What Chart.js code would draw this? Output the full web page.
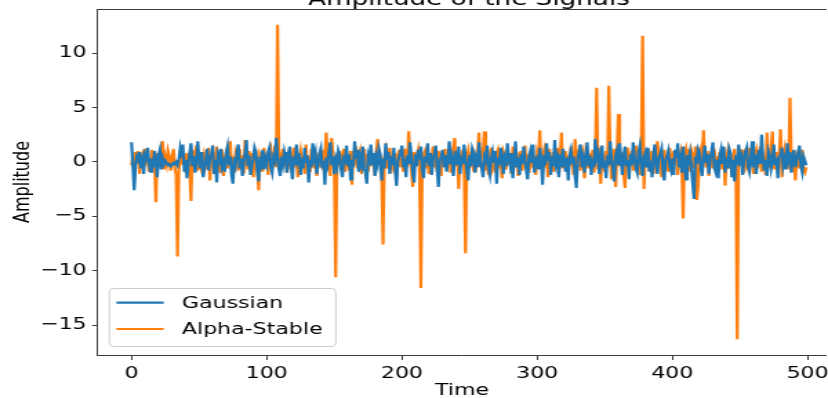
<!DOCTYPE html>
<html>
<head>
<meta charset="utf-8">
<script src="https://cdn.jsdelivr.net/npm/chart.js@4"></script>
<style>
  html, body { margin: 0; padding: 0; background: #fff; overflow: hidden; }
  /* the reference is a crop of a wider figure that was stretched sideways */
  #marco { position: relative; width: 828px; height: 398px; overflow: hidden; }
  #lienzo { position: absolute; left: 0; top: -14px; width: 600px; height: 412px;
            transform: scaleX(1.38); transform-origin: 0 0; }
</style>
</head>
<body>
<div id="marco"><div id="lienzo"><canvas id="grafica"></canvas></div></div>
<script>
const titulo = 'Amplitude of the Signals';
const nombresSeries = ['Gaussian', 'Alpha-Stable'];
const coloresSeries = ['#1f77b4', '#ff7f0e'];
const ticksX = [0, 100, 200, 300, 400, 500];
const ticksY = [10, 5, 0, -5, -10, -15];

// one value per time step (0..499)
const gaussiana = [
  1.8, -0.4, -2.6, -0.3, 0.5, 0.2, 0.9, -0.6, 0.1, -1.1, 0.7, 0.4, 1.3, -0.2, -0.9, 0.3, -0.5, 1.0, 0.2, -1.4,
  0.6, 1.1, -0.7, 0.3, -0.2, 0.1, -0.1, -0.3, -0.2, -0.4, -0.3, -0.1, -0.2, 0.0, -0.3, 0.2, 1.2, 0.4, 1.6, -0.9,
  0.2, -1.5, -0.3, 0.8, 1.7, -0.4, 0.5, -1.0, -0.2, 1.9, 0.3, -0.6, 0.9, -1.4, -0.5, 0.1, 1.2, -0.8, 0.4, 0.6,
  1.5, -1.1, 0.2, -1.9, 0.7, 0.3, 1.2, -0.5, -0.1, -0.9, 0.8, 1.4, -0.3, 0.5, -1.2, -2.0, 0.4, -0.2, 0.9, 1.6,
  -0.6, 0.3, -1.3, 0.1, 0.8, 2.0, -0.4, 0.6, -1.2, -0.3, 0.2, 1.3, 0.9, -0.8, -1.8, 0.5, -0.1, 1.1, -0.7, 0.3,
  -0.2, 0.9, 1.3, -0.5, -1.0, 0.4, 0.1, 2.2, 0.6, -0.7, -1.3, 0.5, -0.2, 0.9, 0.3, -1.0, 0.7, 1.4, -0.4, -1.6,
  0.5, -0.3, 1.6, 0.2, 0.8, -1.2, 0.4, -0.6, 1.3, -0.1, 0.6, -1.9, 0.2, -0.5, 1.7, 0.4, 0.9, -1.1, -0.3, 0.7,
  1.2, -0.6, 0.1, -2.1, 0.4, -0.2, 0.9, 1.8, -0.3, 0.5, -1.1, 0.2, -0.4, 1.0, 0.6, -0.7, -1.4, 0.3, 0.1, 1.5,
  -0.4, 0.7, -1.6, 0.2, -0.5, 1.9, 0.3, 1.1, -0.9, 0.4, -0.2, 1.4, -0.6, -1.0, -2.0, 0.6, 0.2, 1.6, -0.3, 0.8,
  -1.3, 0.4, -0.2, 1.2, 0.7, -1.7, 0.3, -0.6, 1.7, 0.2, 0.9, -1.1, 0.5, -0.3, 1.3, -0.8, -2.2, 0.1, 0.5, 0.9,
  1.5, -0.5, 0.3, -1.4, 0.6, -0.2, 1.8, 0.4, -1.0, -1.9, 0.7, -0.4, 1.1, 0.2, 1.4, -0.7, -1.5, 0.5, -0.1, 1.7,
  -0.4, 0.8, -1.2, 0.3, 0.7, 1.5, -0.6, -2.3, 0.2, 0.4, 1.1, -0.5, 0.6, -0.9, 0.1, 1.9, -0.2, 0.4, -1.3, 0.3,
  1.0, -0.3, 1.4, -1.1, 0.5, -0.2, 1.6, 0.3, -0.8, -1.7, 0.6, -0.4, 1.2, 0.8, -1.0, 0.2, -0.5, 1.8, 0.1, -0.6,
  -1.4, 0.5, 0.2, 1.5, -0.6, -1.2, 0.3, 0.9, -0.1, 1.0, -2.0, 0.4, -0.3, 1.3, 0.6, -1.1, 0.2, -0.4, 1.7, 0.3,
  -0.3, 0.8, -1.5, 0.1, 1.9, -0.5, 0.4, -1.2, 0.7, -0.2, 1.4, 0.3, -0.8, -1.6, 0.5, 1.0, -0.1, 1.6, -1.0, 0.2,
  0.4, -0.7, 1.3, 0.2, -2.1, 0.6, -0.3, 1.7, 0.1, 0.9, -1.2, 0.5, -0.4, 2.0, -0.2, 0.3, -1.4, 0.7, -0.5, 1.2,
  0.1, -0.9, 0.4, -1.7, 0.6, 1.1, -0.2, 0.5, -1.3, -2.4, 0.3, 0.9, 1.6, -0.5, 0.2, -1.0, 0.7, 1.8, -0.4, 0.6,
  -1.2, 0.3, -0.5, 2.1, 0.4, 0.8, -1.1, 0.2, 1.5, -0.6, 0.1, -1.5, 0.6, -0.3, 1.9, 0.2, -0.7, -1.8, 0.5, 1.0,
  -0.2, 1.7, 0.3, -1.2, 0.6, 1.4, -0.4, 0.2, -1.6, 0.7, -0.3, 1.8, 0.5, -0.6, -1.0, 0.9, 1.5, -0.2, -1.3, 0.4,
  0.8, -0.5, 1.3, -0.9, 0.1, -1.4, 0.6, 1.6, -0.3, -1.1, 0.4, 0.7, 1.2, -0.6, -1.7, 0.2, 0.5, 1.0, -0.4, -0.8,
  0.3, -1.2, 1.1, 0.4, 1.7, -0.5, 0.2, -1.0, 1.4, -0.3, -1.6, 0.6, 0.1, 0.8, -0.4, -1.9, -3.4, 0.5, -0.2, 1.2,
  0.9, -0.6, -1.3, 0.4, 1.5, -0.1, 0.7, -1.1, 0.3, 1.0, 1.8, -0.5, -0.9, 0.2, -1.5, 0.5, 1.1, -0.2, 1.4, -1.0,
  0.4, -0.6, 1.2, 0.8, -1.4, 0.2, -1.8, 0.6, -0.3, 1.6, 0.1, 0.5, -1.2, 0.3, 0.9, 1.3, -0.4, -0.9, 0.2, 1.9,
  -0.5, 0.7, -1.1, 0.3, 1.1, -0.2, 2.5, 0.4, -0.8, 0.2, -1.3, 1.0, 0.6, -0.6, 0.1, 1.6, -0.3, 0.4, -1.5, 0.5,
  0.6, 1.3, -0.4, 0.2, -0.7, 1.7, 0.3, 0.9, -1.0, 0.4, 1.1, -0.5, 0.2, 0.7, 1.5, -0.3, -0.9, 0.5, 0.1, -0.3
];
const alfaEstable = [
  -0.3, 0.5, -0.8, 0.9, -0.2, 1.0, -1.1, 0.4, 0.7, -0.5, 1.2, -0.3, 0.6, -0.9, 0.3, 1.1, -0.6, 0.2, -3.7, 0.8,
  -0.4, 0.6, 1.3, 1.9, -0.7, 0.4, -0.2, 1.0, 0.5, -0.8, 0.3, 1.2, -0.5, -1.2, -8.7, -0.9, 0.6, 1.4, -0.3, 0.7,
  -1.0, 0.8, 0.2, -0.6, -3.6, 1.1, -0.4, 0.5, 1.5, -0.8, 0.3, -0.3, 0.9, -1.1, 0.6, 0.1, -0.7, 1.3, -1.7, 0.4,
  0.9, -0.5, 0.2, 1.4, -0.9, 0.6, -0.2, 1.1, -1.3, 0.3, 0.8, -0.6, 1.0, 1.9, -0.4, 0.5, -1.0, 0.7, 0.2, -0.8,
  1.2, -0.3, 0.6, -1.1, 2.0, 0.4, -0.7, 1.0, -0.2, 0.8, -1.4, 0.3, 1.1, -0.5, -2.6, 0.6, 0.2, -0.9, 1.3, -0.4,
  0.7, -1.2, 0.4, 1.0, -0.6, 0.3, 1.5, -0.5, 12.6, 0.9, -0.8, 0.5, 1.2, -0.3, 0.6, -1.0, 0.2, 1.1, -0.7, 0.4,
  1.3, -0.5, 0.8, -1.4, 0.3, 1.0, -0.2, 0.6, -1.1, 1.6, -0.4, 0.5, -0.9, 1.2, 0.1, -0.6, 0.9, -1.3, 0.4, 0.7,
  -0.5, 1.1, -0.8, 0.3, 2.7, 0.6, -0.3, -1.3, 2.2, 0.5, -1.0, -10.6, 0.8, -0.4, 1.0, -0.7, 0.3, 1.2, -0.9, 0.5,
  0.2, -0.8, 1.0, -2.1, 0.6, -0.3, 1.4, -0.6, 0.4, 0.9, -1.1, 0.3, 1.2, -0.5, 0.7, -0.9, 0.2, 1.1, -0.4, 0.6,
  -1.2, 0.9, 2.1, -0.3, 0.5, -0.8, -7.6, 0.4, 1.0, -0.6, 0.3, 1.3, -1.0, 0.6, -0.2, 0.8, -1.4, 0.4, 1.1, -0.5,
  0.3, -0.9, 1.2, 0.5, -0.4, 2.8, 0.2, -0.7, -2.3, 0.9, -0.3, 0.6, 1.1, -0.8, -11.6, -0.5, 0.7, 1.0, -0.6, 0.3,
  -1.1, 0.8, 0.2, 1.4, -0.5, 0.6, -0.9, 1.0, 0.3, -1.3, 0.7, -0.2, 1.2, -0.6, 0.4, 0.9, -1.0, 0.5, 1.3, 2.2,
  -0.4, 0.6, -2.5, 0.8, -0.3, 1.1, -0.7, -8.4, 0.5, 1.0, -0.6, 0.3, 1.2, -0.9, 0.4, -0.2, 0.9, 2.7, -0.5, 0.7,
  1.0, 2.8, -0.8, 0.4, -1.2, 0.6, 1.3, -0.4, 0.2, -1.0, 0.8, 1.1, -0.6, 0.3, -1.5, 0.9, 0.5, -0.7, 1.2, -0.3,
  0.6, -1.1, 1.4, 0.2, -0.5, 0.9, -1.3, 0.4, 1.0, -0.8, 0.3, 1.5, -0.4, 0.7, -1.0, 0.2, 1.2, -0.6, 0.5, -1.2,
  0.8, 0.3, 2.9, -0.7, 0.4, 1.0, -0.5, 0.6, -1.4, 1.2, 0.1, -0.8, 0.9, 0.4, -0.3, 1.3, -1.1, 0.5, 2.7, -0.6,
  0.3, 1.0, -0.9, 0.6, -0.4, 1.4, 0.2, -1.2, 2.1, 0.7, -0.5, 1.1, -0.8, 0.4, 0.9, -1.5, 0.3, 1.2, -0.6, 0.8,
  -0.3, 1.1, -1.0, 0.4, 6.8, -0.7, 1.3, -2.0, 0.6, 0.2, -0.9, 1.0, -0.5, 7.0, 0.8, -1.6, 0.3, 1.2, -2.3, 0.5,
  4.4, -0.4, 0.9, 0.2, -1.1, -2.4, 0.7, 1.3, -0.6, 0.4, 1.0, -0.8, 0.3, 1.5, -0.5, 0.8, -1.2, 0.6, 11.6, -2.5,
  0.7, -0.3, 1.2, -0.8, 0.4, 1.0, -1.1, 0.2, 0.6, 1.9, -0.5, 0.9, -1.4, 0.3, 1.1, -0.6, 0.5, -0.9, 1.3, 0.2,
  -0.7, 1.0, -0.3, 0.6, -1.2, 0.4, 0.9, -0.5, -5.2, 0.8, 1.2, -0.4, 0.3, -0.9, 1.0, 0.5, -0.6, 1.4, -3.5, -2.4,
  0.6, 1.1, -0.8, 2.9, 0.3, -0.5, 1.0, -1.3, 0.4, 0.8, -0.6, 1.2, -0.2, 0.5, -1.0, 0.9, 0.2, -0.7, 1.3, -2.2,
  0.4, 1.0, -0.6, 0.7, -1.4, 0.3, 1.2, -0.9, -16.3, 0.5, 0.8, -0.4, 1.1, -1.0, 0.6, 0.2, -0.8, 1.3, -0.3, 0.7,
  -1.1, 0.5, 1.0, -0.6, 0.3, 1.4, -0.9, 0.6, 0.2, -1.2, 2.7, 0.4, -0.5, 1.1, 2.8, -0.7, 0.3, 0.9, -1.0, 0.5,
  3.0, -1.4, 0.6, 1.2, -0.4, 0.8, -0.7, 5.9, 0.4, -0.9, 1.0, -1.7, 0.5, 0.9, -0.6, 0.3, 1.1, -0.8, -1.0, -0.5
];

const fuente = { family: 'DejaVu Sans', size: 16 };
const colorEje = '#3a3a3a';
const limiteDerechoCompleto = 524; // right end of the original (uncropped) axes, used to centre the title

const menos = v => String(v).replace('-', '\u2212');

// title, top spine and the boxed legend in the lower-left corner
const extras = {
  id: 'extras',
  afterDatasetsDraw(chart) {
    const { ctx, chartArea: a, scales: { x } } = chart;
    ctx.save();
    ctx.strokeStyle = colorEje;
    ctx.lineWidth = 1;
    ctx.beginPath();
    ctx.moveTo(a.left, a.top + 0.5);
    ctx.lineTo(a.right, a.top + 0.5);
    ctx.stroke();

    // legend box
    const bx = a.left + 8, bw = 164, bh = 58, by = a.bottom - 9 - bh;
    ctx.fillStyle = 'rgba(255,255,255,0.8)';
    ctx.strokeStyle = '#cccccc';
    ctx.beginPath();
    if (ctx.roundRect) ctx.roundRect(bx + 0.5, by + 0.5, bw, bh, 3); else ctx.rect(bx + 0.5, by + 0.5, bw, bh);
    ctx.fill();
    ctx.stroke();
    ctx.font = fuente.size + 'px "' + fuente.family + '"';
    ctx.textBaseline = 'middle';
    ctx.textAlign = 'left';
    chart.data.datasets.forEach((ds, i) => {
      const fy = by + 14.7 + i * 26.3;
      ctx.strokeStyle = ds.borderColor;
      ctx.lineWidth = ds.borderWidth;
      ctx.beginPath();
      ctx.moveTo(bx + 5.6, fy);
      ctx.lineTo(bx + 39.8, fy);
      ctx.stroke();
      ctx.fillStyle = '#000';
      ctx.fillText(ds.label, bx + 53, fy + 1);
    });

    // title, partly cut off by the crop
    ctx.font = '19px "DejaVu Sans"';
    ctx.textAlign = 'center';
    ctx.textBaseline = 'alphabetic';
    ctx.fillStyle = '#000';
    const cx = (a.left + x.getPixelForValue(limiteDerechoCompleto)) / 2;
    ctx.fillText(titulo, cx, a.top - 4);
    ctx.restore();
  }
};

const hoja = document.getElementById('grafica').getContext('2d');
new Chart(hoja, {
  type: 'line',
  data: {
    datasets: [
      { label: nombresSeries[0], data: gaussiana.map((v, i) => ({ x: i, y: v })),
        borderColor: coloresSeries[0], borderWidth: 2.2, pointRadius: 0, tension: 0 },
      { label: nombresSeries[1], data: alfaEstable.map((v, i) => ({ x: i, y: v })),
        borderColor: coloresSeries[1], borderWidth: 2.2, pointRadius: 0, tension: 0 }
    ]
  },
  options: {
    responsive: true,
    maintainAspectRatio: false,
    animation: false,
    devicePixelRatio: 1,
    layout: { padding: { top: 23, left: 0, right: 0, bottom: 0 } },
    plugins: { legend: { display: false }, title: { display: false }, tooltip: { enabled: false } },
    scales: {
      x: {
        type: 'linear',
        min: -25,
        max: 514,
        // fixed height, and no extra room kept for the last tick label
        afterFit: s => { s.height = 43; s.paddingLeft = 0; s.paddingRight = 0; },
        afterBuildTicks: s => { s.ticks = ticksX.map(v => ({ value: v })); },
        border: { color: colorEje, width: 1 },
        grid: { drawOnChartArea: false, tickLength: 5, color: colorEje },
        ticks: { font: fuente, color: '#000', padding: 4, maxRotation: 0, callback: menos },
        title: { display: true, text: 'Time', font: fuente, color: '#000', padding: { top: 0, bottom: -2 } }
      },
      y: {
        min: -17.75,
        max: 14.05,
        afterFit: s => { s.width = 70.8; },
        afterBuildTicks: s => { s.ticks = ticksY.map(v => ({ value: v })); },
        border: { color: colorEje, width: 1 },
        grid: { drawOnChartArea: false, tickLength: 4, color: colorEje },
        ticks: { font: fuente, color: '#000', padding: 4, callback: menos },
        title: { display: true, text: 'Amplitude', font: fuente, color: '#000', padding: { top: 7.5, bottom: 0 } }
      }
    }
  },
  plugins: [extras]
});
</script>
</body>
</html>
